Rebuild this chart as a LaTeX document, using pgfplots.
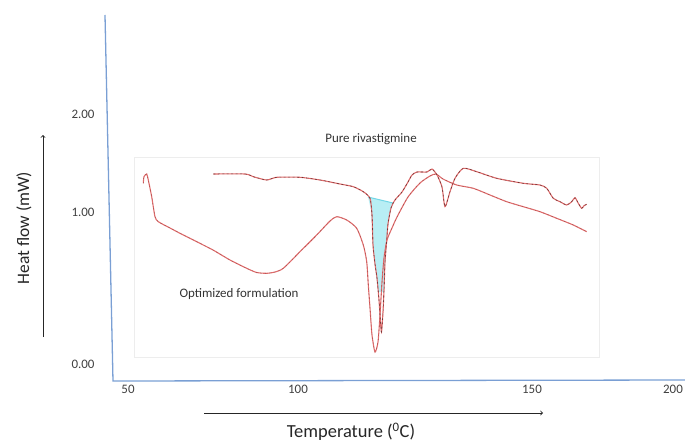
\documentclass[border=0pt]{standalone}
\usepackage{pgfplots}
\pgfplotsset{compat=1.18}
\usepackage{fontspec}
\setmainfont{Carlito}

\definecolor{axisblue}{HTML}{7A9FD4}
\definecolor{dscred}{HTML}{E06C6C}
\definecolor{cyanline}{HTML}{72D6E6}
\definecolor{peakfill}{HTML}{B8EEF4}
\definecolor{ticktext}{HTML}{404040}

% DSC thermograms, traced in the drawing's own frame (x to the right, y downward)
\pgfplotstableread{
x y
143.3 183.3
144 176.7
146.7 174
148.3 180
151.7 196.7
155 216.7
158.3 221.7
170 228
180 233.3
196.7 241.7
213 250
230 260
246.7 268.3
256.7 272.5
266.7 273.3
275 272
283.3 268.3
300 251.7
316.7 235
330 221
336.7 216.7
346.7 220
356.7 228.3
363.3 245
366.7 261.7
368.3 285
370 308
372 335
375 352
378 342
380 315
382 282
384 258
387 240
392 228
397 217
408 197
420 183
430 176
436 174
443 179
456.7 185
473.3 188.3
490 195
506.7 201.7
523.3 206.7
540 211.7
556.7 218.3
573.3 225
586.7 231.7
}\optimized

\pgfplotstableread{
x y
213.3 174
245 174
253.3 176.7
266.7 180
276.7 177.3
300 177.3
320 180
340 184
353.3 186.7
363.3 191.7
370 198.3
372 215
373 245
375 264
377 278
379 300
380.5 322
381.5 332
383 312
384 290
385 262
386.5 243
388 224
391 208
395 200
402 192
408 182
412 175
417 172
427 172
432 169
437 175
442 187
445 206.7
450 191.7
455 178.3
463.3 168.3
476.7 171.7
496.7 178.3
523.3 183.3
540 185
546.7 188.3
553.3 198.3
560 201.7
566.7 205
571.7 201.7
575 197.7
578.3 203.3
581.7 208.3
584 205.7
586.7 204.3
}\pure

\begin{document}
\begin{tikzpicture}
\begin{axis}[
  scale only axis,
  width=572bp, height=381bp,
  xmin=113, xmax=685,
  ymin=0, ymax=381,
  y dir=reverse,
  clip=false,
  separate axis lines,
  axis line style={draw=none},
  major tick length=0pt,
  xtick={128,298,532,673},
  xticklabels={50,100,150,200},
  ytick={114,212,364},
  yticklabels={2.00,1.00,0.00},
  ticklabel style={font=\fontsize{13}{15}\selectfont, text=ticktext},
  xticklabel style={yshift=-1bp},
  yticklabel style={xshift=-15bp},
]
% frame of the pasted thermogram
\addplot[draw=black!7, line width=0.8pt] coordinates {(134,157) (599,157) (599,357) (134,357)} -- cycle;

% integrated melting peak and its baseline
\addplot[fill=peakfill, draw=none] coordinates {
  (368,197) (371,210) (372.5,235) (374,258) (376,275) (378,292)
  (384,292) (385,265) (386.5,245) (388,226) (391,208) (393,203)} -- cycle;
\addplot[cyanline, line width=1pt] coordinates {(368,197) (393,203)};

% curves
\addplot[dscred, line width=1.1pt, smooth, tension=0.4] table[x=x,y=y] {\optimized};
\addplot[black, opacity=0.25, line width=0.5pt, dash pattern=on 1.5pt off 3pt, smooth, tension=0.4] table[x=x,y=y] {\optimized};
\addplot[dscred, line width=1.1pt, smooth, tension=0.4] table[x=x,y=y] {\pure};
\addplot[black, opacity=0.5, line width=0.6pt, dash pattern=on 2pt off 2.5pt, smooth, tension=0.4] table[x=x,y=y] {\pure};

% axis lines
\addplot[axisblue, line width=1.3pt] coordinates {(105,15) (113,381) (685,380)};

% labels
\node[font=\fontsize{13}{15}\selectfont, text=black!80] at (axis cs:371,139) {Pure rivastigmine};
\node[font=\fontsize{13}{15}\selectfont, text=black!80] at (axis cs:239,294) {Optimized formulation};
\node[rotate=90, font=\fontsize{17.5}{19}\selectfont, text=black!85] at (axis cs:24,228) {Heat flow (mW)};
\node[font=\fontsize{18.5}{20}\selectfont, text=black!85] at (axis cs:351,432) {Temperature (\textsuperscript{0}C)};
\draw[->, black!85, line width=0.9pt] (axis cs:43,337) -- (axis cs:43,135);
\draw[->, black!85, line width=0.9pt] (axis cs:204,413) -- (axis cs:543,413);

\coordinate (bbsw) at (axis cs:0,441);
\coordinate (bbne) at (axis cs:685,0);
\end{axis}
\pgfresetboundingbox
\useasboundingbox (bbsw) rectangle (bbne);
\end{tikzpicture}
\end{document}
